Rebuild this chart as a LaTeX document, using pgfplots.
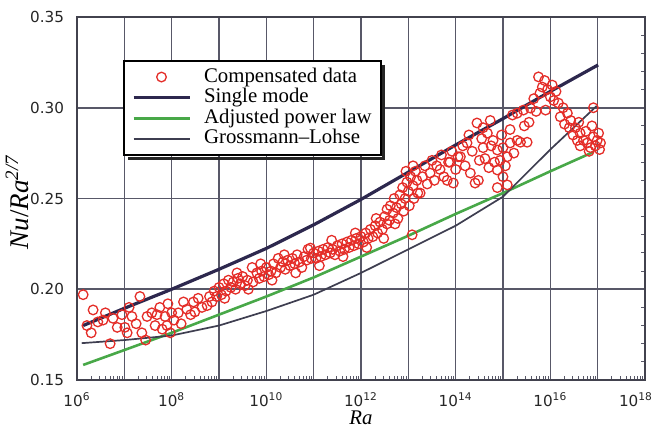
\documentclass[border=0pt]{standalone}
\usepackage{pgfplots}
\usepackage{pgfplotstable}
\pgfplotsset{compat=1.18}
\usepackage{fontspec}
\setmainfont{Liberation Serif}
\newfontfamily\tickfont{DejaVu Sans}

\definecolor{gridc}{RGB}{88,88,104}
\definecolor{smc}{RGB}{45,40,78}
\definecolor{glc}{RGB}{62,62,80}
\definecolor{plc}{RGB}{72,168,72}
\definecolor{datc}{RGB}{228,45,40}

\pgfplotsset{
  lineleg/.style={legend image code/.code={\draw[##1] (0pt,0pt) -- (28pt,0pt);}},
  markleg/.style={legend image code/.code={\path[draw=none] (0pt,0pt) -- (28pt,0pt); \draw[##1] plot coordinates {(14pt,0pt)};}},
}

\def\minorlist{}
\foreach \d in {6,...,17}{\foreach \m in {0.30103,0.47712,0.60206,0.69897,0.77815,0.84510,0.90309,0.95424}{\pgfmathsetmacro\v{\d+\m}\xdef\minorlist{\ifx\minorlist\empty\else\minorlist,\fi\v}}}

% log10(Ra)  Nu/Ra^(2/7)
\pgfplotstableread{
lx nu
6.13 0.197
6.21 0.180
6.30 0.176
6.34 0.1886
6.44 0.182
6.55 0.183
6.60 0.187
6.70 0.170
6.76 0.184
6.85 0.179
6.95 0.186
7.01 0.179
7.06 0.176
7.10 0.190
7.16 0.185
7.25 0.181
7.33 0.196
7.37 0.176
7.45 0.172
7.48 0.185
7.58 0.187
7.65 0.180
7.69 0.186
7.75 0.190
7.80 0.178
7.86 0.185
7.90 0.180
7.92 0.192
7.97 0.176
8.00 0.187
8.05 0.183
8.14 0.187
8.20 0.181
8.25 0.193
8.32 0.189
8.40 0.186
8.46 0.193
8.49 0.1875
8.56 0.195
8.64 0.190
8.75 0.191
8.80 0.196
8.85 0.193
8.90 0.199
8.95 0.196
9.00 0.201
9.05 0.197
9.10 0.203
9.12 0.195
9.15 0.199
9.20 0.205
9.25 0.201
9.30 0.204
9.35 0.200
9.38 0.209
9.40 0.206
9.45 0.203
9.50 0.207
9.55 0.202
9.60 0.205
9.62 0.200
9.70 0.212
9.72 0.204
9.80 0.209
9.85 0.206
9.88 0.214
9.90 0.210
9.95 0.207
10.00 0.212
10.05 0.208
10.10 0.210
10.12 0.205
10.15 0.214
10.20 0.209
10.25 0.217
10.30 0.212
10.35 0.215
10.38 0.219
10.40 0.211
10.45 0.216
10.50 0.213
10.55 0.217
10.60 0.214
10.62 0.209
10.65 0.219
10.70 0.215
10.75 0.212
10.80 0.218
10.85 0.216
10.88 0.222
10.93 0.2227
10.95 0.217
11.00 0.220
11.05 0.217
11.10 0.221
11.12 0.213
11.15 0.218
11.20 0.222
11.25 0.219
11.30 0.223
11.35 0.220
11.38 0.227
11.40 0.222
11.45 0.219
11.50 0.224
11.55 0.221
11.60 0.225
11.62 0.218
11.65 0.222
11.70 0.226
11.75 0.223
11.80 0.227
11.85 0.224
11.88 0.231
11.90 0.228
11.95 0.225
12.00 0.229
12.05 0.226
12.10 0.231
12.12 0.223
12.15 0.228
12.20 0.233
12.25 0.229
12.30 0.235
12.32 0.239
12.35 0.231
12.40 0.237
12.45 0.233
12.48 0.228
12.50 0.240
12.55 0.244
12.55 0.236
12.60 0.238
12.62 0.246
12.68 0.242
12.70 0.250
12.72 0.236
12.75 0.245
12.78 0.239
12.82 0.252
12.85 0.247
12.88 0.256
12.90 0.243
12.93 0.250
12.95 0.265
12.97 0.259
13.00 0.254
13.02 0.246
13.05 0.262
13.08 0.230
13.10 0.257
13.10 0.268
13.12 0.250
13.15 0.265
13.18 0.260
13.20 0.253
13.25 0.253
13.30 0.262
13.35 0.268
13.40 0.258
13.46 0.264
13.50 0.271
13.55 0.260
13.60 0.268
13.67 0.266
13.70 0.274
13.75 0.262
13.82 0.260
13.85 0.270
13.88 0.270
13.92 0.276
13.95 0.2585
14.00 0.266
14.05 0.273
14.10 0.273
14.15 0.279
14.20 0.268
14.24 0.2806
14.28 0.285
14.31 0.264
14.35 0.276
14.41 0.2585
14.45 0.2916
14.48 0.260
14.50 0.271
14.55 0.283
14.58 0.289
14.58 0.278
14.62 0.272
14.67 0.286
14.70 0.267
14.73 0.293
14.75 0.279
14.79 0.282
14.82 0.270
14.88 0.2767
14.88 0.2657
14.88 0.256
14.94 0.271
14.97 0.285
15.00 0.278
15.00 0.262
15.05 0.268
15.09 0.273
15.09 0.2575
15.15 0.2806
15.15 0.288
15.20 0.296
15.23 0.275
15.30 0.282
15.30 0.297
15.37 0.281
15.43 0.2987
15.45 0.290
15.51 0.281
15.55 0.292
15.58 0.2998
15.65 0.305
15.70 0.298
15.75 0.317
15.78 0.308
15.83 0.3114
15.88 0.315
15.90 0.2987
15.94 0.310
16.00 0.306
16.04 0.3125
16.07 0.304
16.12 0.309
16.17 0.3026
16.21 0.295
16.27 0.300
16.30 0.291
16.36 0.297
16.40 0.289
16.43 0.293
16.48 0.285
16.53 0.289
16.57 0.282
16.60 0.292
16.63 0.286
16.63 0.279
16.70 0.282
16.75 0.287
16.78 0.2806
16.82 0.276
16.85 0.278
16.88 0.290
16.91 0.284
16.91 0.300
16.95 0.279
16.99 0.282
17.02 0.286
17.06 0.2806
17.04 0.277
}\datatable

\pgfplotstableread{
lx nu
6.13 0.180
7.00 0.1895
8.00 0.200
9.00 0.211
10.00 0.2225
11.00 0.2355
12.00 0.2495
13.00 0.2645
14.00 0.2795
15.00 0.294
16.00 0.309
17.01 0.3236
}\singletable

\pgfplotstableread{
lx nu
6.13 0.1583
7.00 0.1665
8.00 0.176
9.00 0.186
10.00 0.196
11.00 0.2065
12.00 0.218
13.00 0.2295
14.00 0.2415
15.00 0.253
16.00 0.265
16.90 0.2755
}\powertable

\pgfplotstableread{
lx nu
6.10 0.1703
7.00 0.172
8.00 0.1745
9.00 0.180
10.00 0.188
11.00 0.197
12.00 0.209
13.00 0.222
14.00 0.235
15.00 0.251
16.00 0.277
16.98 0.301
}\gltable

\begin{document}
\begin{tikzpicture}
\path[use as bounding box] (-38.5pt,-24pt) rectangle (291pt,190pt);
\begin{axis}[
  scale only axis, width=284pt, height=181.5pt,
  xmin=6, xmax=18, ymin=0.15, ymax=0.35,
  xtick={6,7,8,9,10,11,12,13,14,15,16,17,18},
  xticklabels={{10\textsuperscript{6}},{},{10\textsuperscript{8}},{},{10\textsuperscript{10}},{},{10\textsuperscript{12}},{},{10\textsuperscript{14}},{},{10\textsuperscript{16}},{},{\hspace*{-9pt}10\textsuperscript{18}}},
  ytick={0.15,0.20,0.25,0.30,0.35},
  yticklabels={0.15,0.20,0.25,0.30,0.35},
  minor xtick=\minorlist,
  minor ytick={0.16,0.17,0.18,0.19,0.21,0.22,0.23,0.24,0.26,0.27,0.28,0.29,0.31,0.32,0.33,0.34},
  xmajorgrids=true, ymajorgrids=true,
  major grid style={draw=gridc, line width=0.75pt},
  major tick length=0.01pt, minor tick length=2.2pt,
  tick align=inside,
  xtick pos=bottom, ytick pos=right, yticklabel pos=left, xticklabel pos=bottom,
  minor tick style={gridc, line width=0.5pt},
  axis line style={gridc!75!black, line width=1pt},
  tick label style={font=\tickfont\fontsize{7.6}{9}\selectfont, text=black!85},
  yticklabel style={xshift=-3pt},
  xticklabel style={yshift=-3pt},
  xlabel={\textit{Ra}},
  xlabel style={at={(axis description cs:0.5,-0.104)}, anchor=center, font=\fontsize{10.4}{12}\selectfont},
  ylabel={\textit{Nu}/\textit{Ra}\textsuperscript{\itshape 2/7}},
  ylabel style={at={(axis description cs:-0.105,0.49)}, anchor=center, font=\fontsize{13.5}{14}\selectfont},
  legend cell align=left,
  legend style={at={(axis description cs:0.081,0.882)}, anchor=north west, name=leg,
    draw=black, line width=0.9pt, fill=white, inner xsep=4pt, inner ysep=3pt,
    font=\fontsize{10.4}{10}\selectfont,
    nodes={inner sep=0.5pt, text height=7.2pt, text depth=2.1pt},
    column sep=6pt},
]
\addplot[only marks, mark=o, mark size=2.4pt, datc, line width=0.65pt, markleg]
  table[x=lx,y=nu]{\datatable};
\addlegendentry{Compensated data}
\addplot[smc, line width=1.6pt, no marks, lineleg]
  table[x=lx,y=nu]{\singletable};
\addlegendentry{Single mode}
\addplot[plc, line width=1.3pt, no marks, lineleg]
  table[x=lx,y=nu]{\powertable};
\addlegendentry{Adjusted power law}
\addplot[glc, line width=0.85pt, no marks, lineleg]
  table[x=lx,y=nu]{\gltable};
\addlegendentry{Grossmann--Lohse}
\end{axis}
\draw[black!85, line width=1.4pt]
  ([xshift=1.1pt,yshift=-2.5pt]leg.north east) -- ([xshift=1.1pt,yshift=-1.1pt]leg.south east)
  -- ([xshift=2.5pt,yshift=-1.1pt]leg.south west);
\end{tikzpicture}
\end{document}
